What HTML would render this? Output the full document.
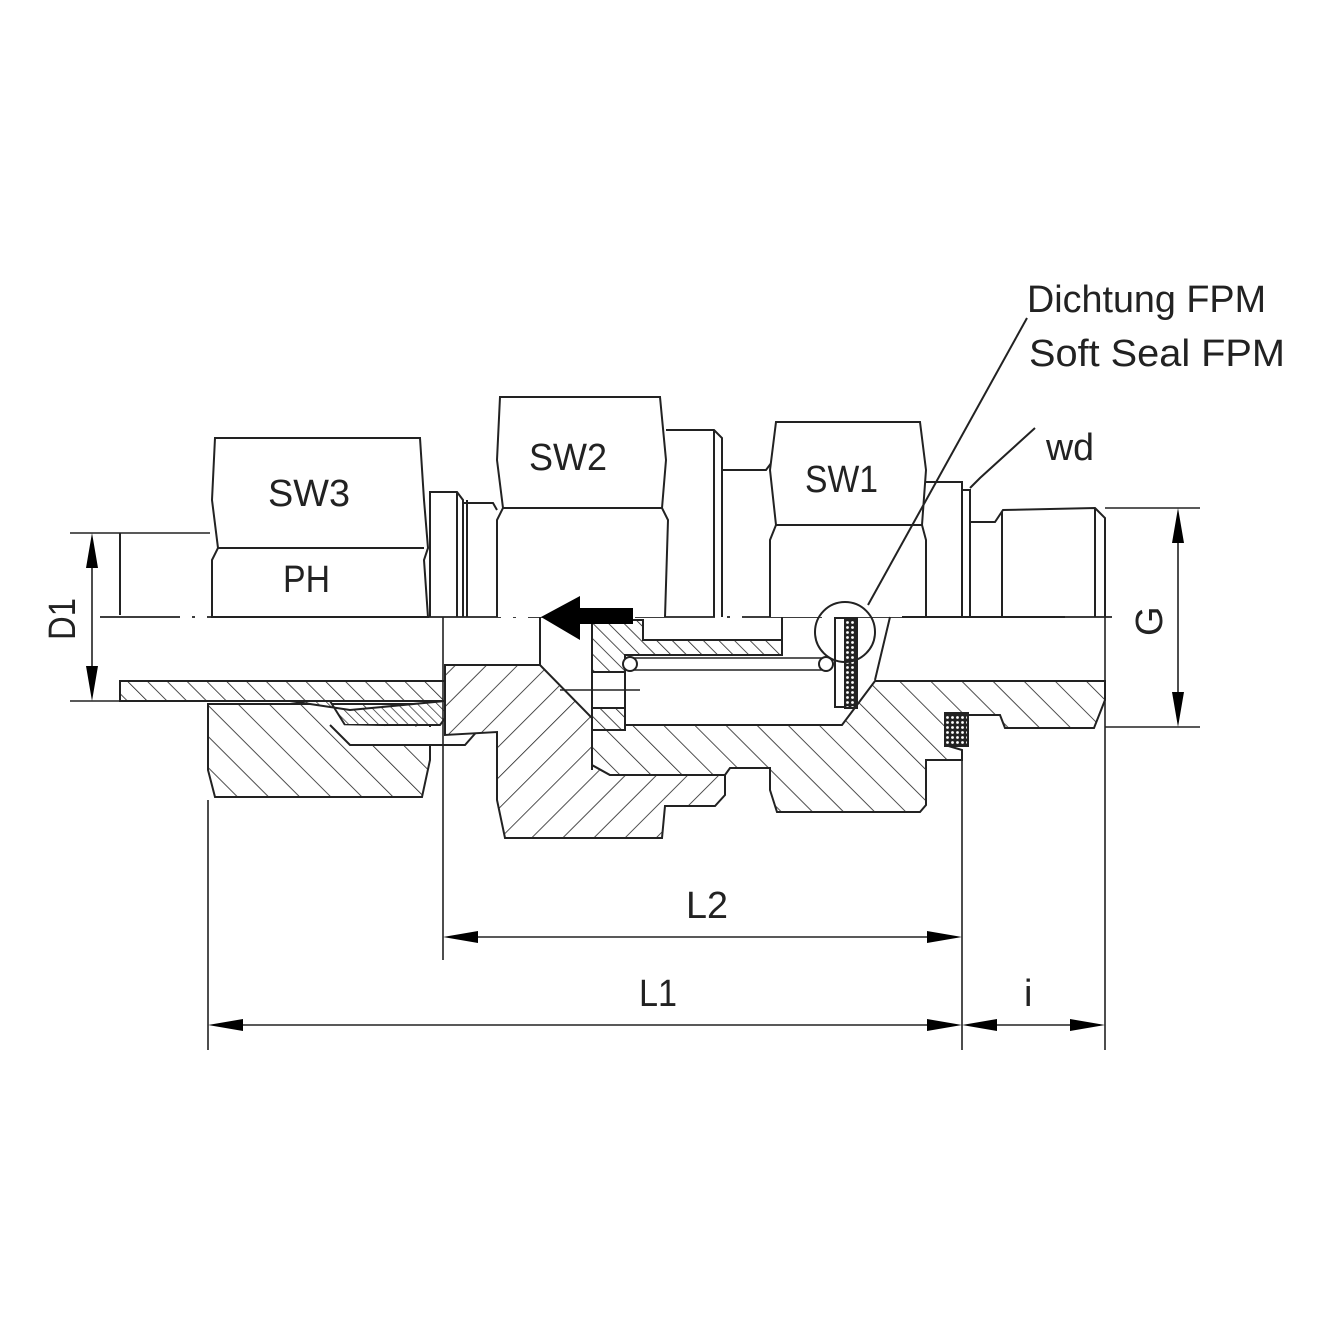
<!DOCTYPE html>
<html><head><meta charset="utf-8"><style>html,body{margin:0;padding:0;background:#fff}svg{display:block}</style></head>
<body>
<svg width="1320" height="1320" viewBox="0 0 1320 1320" xmlns="http://www.w3.org/2000/svg">
<defs>
<pattern id="hb" patternUnits="userSpaceOnUse" width="22" height="22" patternTransform="rotate(-45)"><rect width="22" height="22" fill="#fff"/><line x1="0" y1="0" x2="0" y2="22" stroke="#222" stroke-width="1.6"/></pattern>
<pattern id="hf" patternUnits="userSpaceOnUse" width="22" height="22" patternTransform="rotate(45)"><rect width="22" height="22" fill="#fff"/><line x1="0" y1="0" x2="0" y2="22" stroke="#222" stroke-width="1.6"/></pattern>
<pattern id="ht" patternUnits="userSpaceOnUse" width="14" height="14" patternTransform="rotate(-45)"><rect width="14" height="14" fill="#fff"/><line x1="0" y1="0" x2="0" y2="14" stroke="#222" stroke-width="1.6"/></pattern>
<pattern id="hs" patternUnits="userSpaceOnUse" width="11" height="11" patternTransform="rotate(-45)"><rect width="11" height="11" fill="#fff"/><line x1="0" y1="0" x2="0" y2="11" stroke="#222" stroke-width="1.6"/></pattern>
<pattern id="hsf" patternUnits="userSpaceOnUse" width="7" height="7" patternTransform="rotate(-45)"><rect width="7" height="7" fill="#fff"/><line x1="0" y1="0" x2="0" y2="7" stroke="#222" stroke-width="1.4"/></pattern>
<pattern id="dots" patternUnits="userSpaceOnUse" width="5" height="5"><rect width="5" height="5" fill="#222"/><circle cx="2.5" cy="2.5" r="1.4" fill="#fff"/></pattern>
</defs>
<g fill="none" stroke="#222" stroke-width="2">
<line x1="100" y1="617" x2="1112" y2="617" stroke-dasharray="80 12 3 12" stroke-width="1.8"/>
<path d="M212,617 L212,560 L218,548 L212,500 L215,438 L420,438 L424,500 L428,548 L424,560 L428,617 Z" fill="#fff"/>
<line x1="218" y1="548" x2="424" y2="548"/>
<path d="M430,617 L430,492 L457,492 L463,500 L463,617"/>
<line x1="457" y1="492" x2="457" y2="617"/>
<path d="M463,503 L493,503 L497,510"/>
<line x1="467" y1="500" x2="467" y2="617"/>
<path d="M497,617 L497,520 L503,508 L497,460 L500,397 L660,397 L666,460 L662,508 L668,520 L665,617" fill="#fff"/>
<line x1="503" y1="508" x2="662" y2="508"/>
<path d="M666,430 L714,430 L722,438 L722,617 M714,430 L714,617"/>
<path d="M722,470 L766,470 L772,462"/>
<path d="M770,617 L770,540 L776,525 L770,470 L776,422 L920,422 L926,470 L922,525 L926,540 L926,617" fill="#fff"/>
<line x1="776" y1="525" x2="922" y2="525"/>
<path d="M926,482 L962,482 L962,617 M962,490 L970,490 L970,617"/>
<path d="M970,522 L995,522 L1003,510 L1095,508 L1105,518 L1105,617 M1002,512 L1002,617 M1095,508 L1095,617"/>
<line x1="902" y1="617" x2="1065" y2="617"/>
<line x1="120" y1="533" x2="120" y2="615"/>
<rect x="120" y="681" width="325" height="20" fill="url(#ht)"/>
<line x1="120" y1="681" x2="445" y2="681"/>
<path d="M208,704 L430,704 L430,760 L422,797 L215,797 L208,770 Z" fill="url(#hb)"/>
<path d="M290,701 L330,701 L345,725 L440,725 L455,705 L445,701 L350,710 Z" fill="url(#hsf)"/>
<path d="M330,725 L350,745 L465,745 L480,728" fill="#fff"/>
<path d="M445,665 L540,665 L592,718 L592,765 L610,775 L725,775 L725,795 L715,806 L665,806 L662,838 L505,838 L497,800 L497,732 L445,735 Z" fill="url(#hf)"/>
<line x1="540" y1="617" x2="540" y2="665"/>
<path d="M592,725 L842,725 L875,681 L1105,681 L1105,700 L1094,728 L1005,728 L1000,715 L945,715 L945,745 L962,750 L962,760 L926,760 L926,805 L920,812 L777,812 L770,790 L770,768 L730,768 L725,775 L610,775 L592,765 Z" fill="url(#hb)"/>
<rect x="945" y="713" width="23" height="33" fill="url(#dots)"/>
<path d="M592,620 L643,620 L643,640 L782,640 L782,655 L625,655 L625,672 L592,672 Z" fill="url(#hs)"/>
<rect x="592" y="708" width="33" height="22" fill="url(#hs)"/>
<line x1="592" y1="620" x2="592" y2="770"/>
<line x1="625" y1="655" x2="625" y2="725"/>
<line x1="630" y1="658" x2="830" y2="658" stroke-width="1.5"/>
<line x1="630" y1="670" x2="830" y2="670" stroke-width="1.5"/>
<line x1="560" y1="690" x2="640" y2="690" stroke-width="1.5"/>
<circle cx="630" cy="664" r="7" fill="#fff"/>
<circle cx="826" cy="664" r="7" fill="#fff"/>
<line x1="782" y1="617" x2="782" y2="655"/>
<path d="M835,618 L845,618 L845,707 L835,707 Z" fill="#fff"/>
<rect x="845" y="618" width="12" height="90" fill="url(#dots)"/>
<circle cx="845" cy="632" r="30"/>
<line x1="868" y1="605" x2="1027" y2="318"/>
<line x1="890" y1="617" x2="875" y2="680"/>
<path d="M970,488 L980,478 L1035,428"/>
<path d="M541,617 L580,596 L580,608 L633,608 L633,624 L580,624 L580,640 Z" fill="#000" stroke="none"/>
<line x1="208" y1="800" x2="208" y2="1050" stroke-width="1.6"/>
<line x1="443" y1="617" x2="443" y2="960" stroke-width="1.6"/>
<line x1="962" y1="750" x2="962" y2="1050" stroke-width="1.6"/>
<line x1="1105" y1="617" x2="1105" y2="1050" stroke-width="1.6"/>
<line x1="70" y1="533" x2="210" y2="533" stroke-width="1.6"/>
<line x1="70" y1="701" x2="120" y2="701" stroke-width="1.6"/>
<line x1="1105" y1="508" x2="1200" y2="508" stroke-width="1.6"/>
<line x1="1105" y1="727" x2="1200" y2="727" stroke-width="1.6"/>
<line x1="92" y1="540" x2="92" y2="695" stroke-width="1.6"/>
<line x1="1178" y1="515" x2="1178" y2="720" stroke-width="1.6"/>
<line x1="450" y1="937" x2="955" y2="937" stroke-width="1.6"/>
<line x1="215" y1="1025" x2="955" y2="1025" stroke-width="1.6"/>
<line x1="968" y1="1025" x2="1100" y2="1025" stroke-width="1.6"/>
</g>
<g fill="#000">
<path d="M92,533 L86,568 L98,568 Z M92,701 L86,666 L98,666 Z"/>
<path d="M1178,508 L1172,543 L1184,543 Z M1178,727 L1172,692 L1184,692 Z"/>
<path d="M443,937 L478,931 L478,943 Z M962,937 L927,931 L927,943 Z"/>
<path d="M208,1025 L243,1019 L243,1031 Z M962,1025 L927,1019 L927,1031 Z"/>
<path d="M962,1025 L997,1019 L997,1031 Z M1105,1025 L1070,1019 L1070,1031 Z"/>
</g>
<g font-family="Liberation Sans, sans-serif" font-size="38" fill="#222">
<text x="268" y="506" textLength="82" lengthAdjust="spacingAndGlyphs">SW3</text>
<text x="283" y="592" textLength="47" lengthAdjust="spacingAndGlyphs">PH</text>
<text x="529" y="470" textLength="78" lengthAdjust="spacingAndGlyphs">SW2</text>
<text x="805" y="492" textLength="73" lengthAdjust="spacingAndGlyphs">SW1</text>
<text x="1046" y="460" textLength="48" lengthAdjust="spacingAndGlyphs">wd</text>
<text x="1027" y="312" textLength="239" lengthAdjust="spacingAndGlyphs">Dichtung FPM</text>
<text x="1029" y="366" textLength="256" lengthAdjust="spacingAndGlyphs">Soft Seal FPM</text>
<text x="686" y="918" textLength="42" lengthAdjust="spacingAndGlyphs">L2</text>
<text x="639" y="1006" textLength="38" lengthAdjust="spacingAndGlyphs">L1</text>
<text x="1024" y="1006">i</text>
<text transform="translate(75,640) rotate(-90)" textLength="42" lengthAdjust="spacingAndGlyphs">D1</text>
<text transform="translate(1162,636) rotate(-90)">G</text>
</g>
</svg>
</body></html>
